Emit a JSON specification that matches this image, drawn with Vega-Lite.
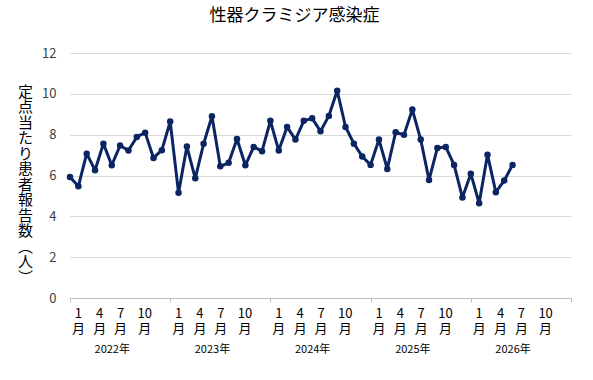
{
  "$schema": "https://vega.github.io/schema/vega-lite/v6.json",
  "autosize": "none",
  "width": 501,
  "height": 245,
  "padding": {"left": 70, "top": 53, "right": 22, "bottom": 82},
  "background": "white",
  "config": {
    "font": "Noto Sans CJK JP",
    "view": {"stroke": null},
    "axis": {"labelFont": "Noto Sans CJK JP", "titleFont": "Noto Sans CJK JP"}
  },
  "title": {
    "text": "性器クラミジア感染症",
    "font": "Noto Sans CJK JP",
    "fontSize": 17,
    "fontWeight": "normal",
    "color": "#000000",
    "dx": -26,
    "offset": 22
  },
  "data": {
    "values": [
      {"month": "2022-01", "i": 0, "value": 5.93},
      {"month": "2022-02", "i": 1, "value": 5.47},
      {"month": "2022-03", "i": 2, "value": 7.07},
      {"month": "2022-04", "i": 3, "value": 6.26},
      {"month": "2022-05", "i": 4, "value": 7.56},
      {"month": "2022-06", "i": 5, "value": 6.5},
      {"month": "2022-07", "i": 6, "value": 7.47},
      {"month": "2022-08", "i": 7, "value": 7.22},
      {"month": "2022-09", "i": 8, "value": 7.89},
      {"month": "2022-10", "i": 9, "value": 8.1},
      {"month": "2022-11", "i": 10, "value": 6.86},
      {"month": "2022-12", "i": 11, "value": 7.24},
      {"month": "2023-01", "i": 12, "value": 8.64},
      {"month": "2023-02", "i": 13, "value": 5.15},
      {"month": "2023-03", "i": 14, "value": 7.42},
      {"month": "2023-04", "i": 15, "value": 5.86},
      {"month": "2023-05", "i": 16, "value": 7.55},
      {"month": "2023-06", "i": 17, "value": 8.9},
      {"month": "2023-07", "i": 18, "value": 6.45},
      {"month": "2023-08", "i": 19, "value": 6.62},
      {"month": "2023-09", "i": 20, "value": 7.79},
      {"month": "2023-10", "i": 21, "value": 6.5},
      {"month": "2023-11", "i": 22, "value": 7.4},
      {"month": "2023-12", "i": 23, "value": 7.19},
      {"month": "2024-01", "i": 24, "value": 8.68},
      {"month": "2024-02", "i": 25, "value": 7.22},
      {"month": "2024-03", "i": 26, "value": 8.38},
      {"month": "2024-04", "i": 27, "value": 7.76},
      {"month": "2024-05", "i": 28, "value": 8.68},
      {"month": "2024-06", "i": 29, "value": 8.8},
      {"month": "2024-07", "i": 30, "value": 8.17},
      {"month": "2024-08", "i": 31, "value": 8.92},
      {"month": "2024-09", "i": 32, "value": 10.15},
      {"month": "2024-10", "i": 33, "value": 8.38},
      {"month": "2024-11", "i": 34, "value": 7.56},
      {"month": "2024-12", "i": 35, "value": 6.93},
      {"month": "2025-01", "i": 36, "value": 6.52},
      {"month": "2025-02", "i": 37, "value": 7.76},
      {"month": "2025-03", "i": 38, "value": 6.32},
      {"month": "2025-04", "i": 39, "value": 8.12},
      {"month": "2025-05", "i": 40, "value": 7.99},
      {"month": "2025-06", "i": 41, "value": 9.23},
      {"month": "2025-07", "i": 42, "value": 7.76},
      {"month": "2025-08", "i": 43, "value": 5.78},
      {"month": "2025-09", "i": 44, "value": 7.35},
      {"month": "2025-10", "i": 45, "value": 7.4},
      {"month": "2025-11", "i": 46, "value": 6.52},
      {"month": "2025-12", "i": 47, "value": 4.92},
      {"month": "2026-01", "i": 48, "value": 6.09},
      {"month": "2026-02", "i": 49, "value": 4.64},
      {"month": "2026-03", "i": 50, "value": 7.02},
      {"month": "2026-04", "i": 51, "value": 5.18},
      {"month": "2026-05", "i": 52, "value": 5.75},
      {"month": "2026-06", "i": 53, "value": 6.52}
    ]
  },
  "encoding": {
    "y": {
      "field": "value",
      "type": "quantitative",
      "scale": {"domain": [0, 12], "nice": false, "zero": true},
      "axis": {
        "values": [0, 2, 4, 6, 8, 10, 12],
        "grid": true,
        "gridColor": "#d9d9d9",
        "gridWidth": 1,
        "domain": false,
        "ticks": false,
        "labelFontSize": 13,
        "labelColor": "#404040",
        "labelPadding": 14,
        "title": ["定", "点", "当", "た", "り", "患", "者", "報", "告", "数", "︵", "人", "︶"],
        "titleAngle": 0,
        "titleAlign": "center",
        "titleBaseline": "top",
        "titleFontSize": 15,
        "titleFontWeight": "normal",
        "titleColor": "#000000",
        "titleLineHeight": 15.5,
        "titleX": -45,
        "titleY": 31
      }
    }
  },
  "layer": [
    {
      "mark": {"type": "line", "color": "#0b2563", "strokeWidth": 3, "strokeJoin": "round"},
      "encoding": {
        "x": {
          "field": "i",
          "type": "quantitative",
          "scale": {"domain": [0, 60], "nice": false, "zero": false},
          "axis": {
            "orient": "bottom",
            "values": [0, 0.95, 3.5, 6, 8.9, 12, 12.95, 15.5, 18, 20.9, 24, 24.95, 27.5, 30, 32.9, 36, 36.95, 39.5, 42, 44.9, 48, 48.95, 51.5, 54, 56.9, 60],
            "grid": false,
            "domain": true,
            "domainColor": "#bfbfbf",
            "domainWidth": 1,
            "tickColor": "#bfbfbf",
            "tickSize": 4,
            "tickOpacity": {"condition": {"test": "datum.value % 12 == 0", "value": 1}, "value": 0},
            "labelExpr": "datum.value % 12 == 0 ? '' : [toString(1 + 3 * round((datum.value % 12) / 3)), '月']",
            "labelFontSize": 13,
            "labelColor": "#000000",
            "labelLineHeight": 15,
            "labelBaseline": "top",
            "labelPadding": 5,
            "labelOverlap": false,
            "labelFlush": false,
            "title": null
          }
        }
      }
    },
    {
      "mark": {"type": "point", "filled": true, "color": "#0b2563", "size": 42, "opacity": 1},
      "encoding": {
        "x": {
          "field": "i",
          "type": "quantitative",
          "axis": {
            "orient": "bottom",
            "values": [5, 17, 29, 41, 53],
            "grid": false,
            "domain": false,
            "ticks": false,
            "labelExpr": "toString(2022 + floor(datum.value / 12)) + '年'",
            "labelFontSize": 11,
            "labelColor": "#000000",
            "labelBaseline": "top",
            "labelPadding": 45,
            "labelOverlap": false,
            "labelFlush": false,
            "title": null
          }
        }
      }
    }
  ],
  "resolve": {"axis": {"x": "independent"}}
}
